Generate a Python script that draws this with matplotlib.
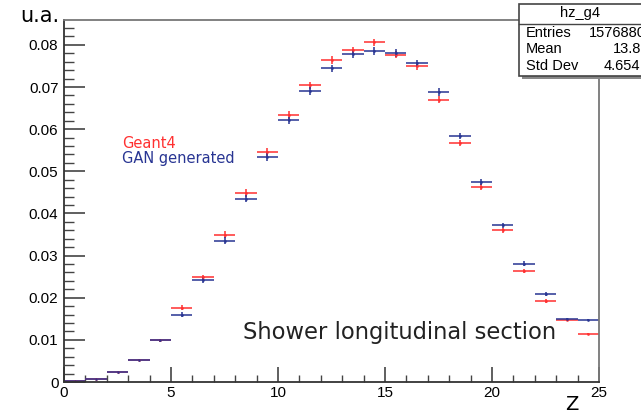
import numpy as np
import matplotlib
matplotlib.use("Agg")
import matplotlib.pyplot as plt
from matplotlib.patches import Rectangle
from matplotlib.ticker import MultipleLocator

# ---- data ----
bin_centers = np.arange(0.5, 25.0, 1.0)
geant4 = [0.0002, 0.0008, 0.0024, 0.0052, 0.0099, 0.0176, 0.0248, 0.0350, 0.0448, 0.0546,
          0.0633, 0.0704, 0.0764, 0.0787, 0.0806, 0.0777, 0.0750, 0.0670, 0.0567, 0.0463,
          0.0360, 0.0264, 0.0192, 0.0147, 0.0115]
gan = [0.0002, 0.0007, 0.0024, 0.0052, 0.0099, 0.0160, 0.0241, 0.0335, 0.0435, 0.0534,
       0.0621, 0.0691, 0.0744, 0.0778, 0.0786, 0.0781, 0.0756, 0.0688, 0.0584, 0.0475,
       0.0372, 0.0281, 0.0209, 0.0150, 0.0148]
err_g4 = [0.0001, 0.0001, 0.0002, 0.0003, 0.0004, 0.0006, 0.0007, 0.0008, 0.0009, 0.0009,
          0.0009, 0.0009, 0.0009, 0.0009, 0.0009, 0.0009, 0.0009, 0.0009, 0.0008, 0.0007,
          0.0006, 0.0005, 0.0004, 0.0003, 0.0002]
err_gan = err_g4
x_ticks = [0, 5, 10, 15, 20, 25]
y_ticks = [0, 0.01, 0.02, 0.03, 0.04, 0.05, 0.06, 0.07, 0.08]
y_ticklabels = ["0", "0.01", "0.02", "0.03", "0.04", "0.05", "0.06", "0.07", "0.08"]
stats_name = "hz_g4"
stats_rows = [("Entries", "1576880"), ("Mean", "13.8"), ("Std Dev", "4.654")]

W, H = 641, 416
fig = plt.figure(figsize=(W / 100, H / 100), dpi=100)
ax = fig.add_axes([64 / W, 1 - 382 / H, 535 / W, 362 / H])

RED = "#ff3030"
BLUE = "#283593"

ax.errorbar(bin_centers, geant4, xerr=0.5, yerr=err_g4, fmt='.', color=RED,
            ms=2, lw=1.3, capsize=0, alpha=0.85)
ax.errorbar(bin_centers, gan, xerr=0.5, yerr=err_gan, fmt='.', color=BLUE,
            ms=2, lw=1.3, capsize=0, alpha=0.85)

ax.set_xlim(0, 25)
ax.set_ylim(0, 0.0859)
ax.set_xticks(x_ticks)
ax.set_xticklabels([str(t) for t in x_ticks])
ax.set_yticks(y_ticks)
ax.set_yticklabels(y_ticklabels)
ax.xaxis.set_minor_locator(MultipleLocator(1))
ax.yaxis.set_minor_locator(MultipleLocator(0.002))
ax.tick_params(axis='both', which='both', direction='in', top=False, right=False,
               color='#444444', labelsize=11)
for lab in ax.get_xticklabels() + ax.get_yticklabels():
    lab.set_family('Liberation Sans')
ax.tick_params(axis='y', which='major', length=15, width=1.2, pad=4)
ax.tick_params(axis='y', which='minor', length=7, width=1.0)
ax.tick_params(axis='x', which='major', length=11, width=1.2, pad=3)
ax.tick_params(axis='x', which='minor', length=5, width=1.0)
for s in ['left', 'bottom']:
    ax.spines[s].set_color('#333333')
    ax.spines[s].set_linewidth(1.3)
for s in ['top', 'right']:
    ax.spines[s].set_color('#777777')
    ax.spines[s].set_linewidth(1.3)

def px(x, y):
    return x / W, 1 - y / H

fig.text(*px(20, 16), "u.a.", fontsize=15, family='DejaVu Sans', va='center', ha='left')
fig.text(*px(572, 405), "Z", fontsize=14, family='DejaVu Sans', va='center', ha='center')
fig.text(*px(122, 143), "Geant4", fontsize=10.5, color=RED, family='DejaVu Sans', va='center')
fig.text(*px(122, 158), "GAN generated", fontsize=10.5, color=BLUE, family='DejaVu Sans', va='center')
fig.text(*px(243, 333), "Shower longitudinal section", fontsize=16.3, color='#222222',
         family='DejaVu Sans', va='center', ha='left')

# stats box
bx0, by0, bx1, by1 = 519, 4, 660, 76
shadow = Rectangle(px(bx0 + 3, by1 + 3), (bx1 - bx0) / W, (by1 - by0) / H,
                   transform=fig.transFigure, facecolor='#888888', edgecolor='none')
box = Rectangle(px(bx0, by1), (bx1 - bx0) / W, (by1 - by0) / H,
                transform=fig.transFigure, facecolor='white', edgecolor='#444444', lw=1.2)
fig.add_artist(shadow)
fig.add_artist(box)
fig.add_artist(plt.Line2D([bx0 / W, 1], [1 - 24 / H, 1 - 24 / H], transform=fig.transFigure,
                          color='#444444', lw=1.0))
fig.text(*px(580, 13), stats_name, fontsize=10.5, family='Liberation Sans', ha='center', va='center')
val_x = [589, 613, 604]
for (name, val), yy, vx in zip(stats_rows, [33, 49, 66], val_x):
    fig.text(*px(526, yy), name, fontsize=10.5, family='Liberation Sans', ha='left', va='center')
    fig.text(*px(vx, yy), val, fontsize=10.5, family='Liberation Sans', ha='left', va='center')

fig.savefig("out.png", dpi=100)
